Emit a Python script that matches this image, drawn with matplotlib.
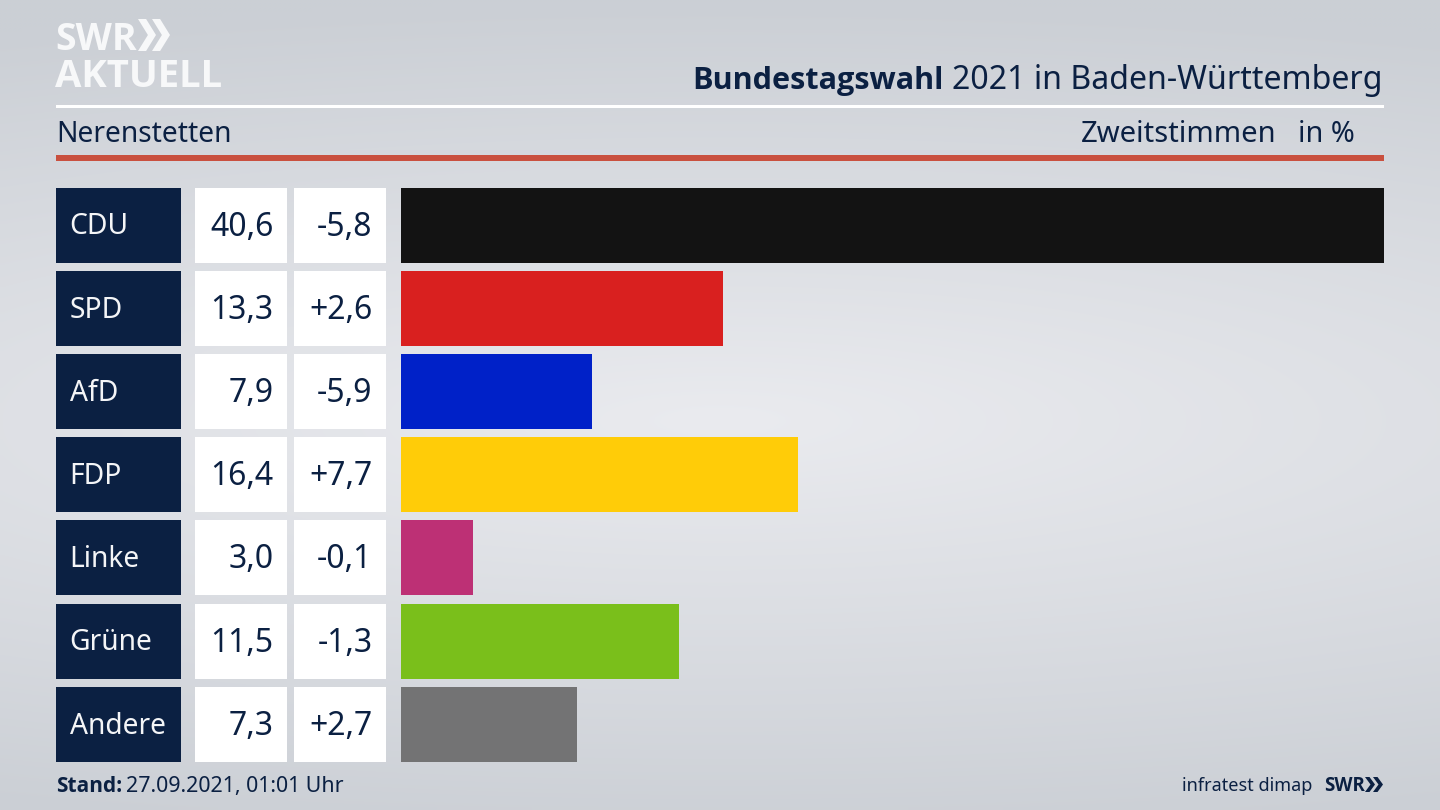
import numpy as np
import matplotlib
matplotlib.use("Agg")
import matplotlib.pyplot as plt
from matplotlib import font_manager as fm
from matplotlib.patches import Rectangle, Polygon

parties = ["CDU", "SPD", "AfD", "FDP", "Linke", "Grüne", "Andere"]
shares = [40.6, 13.3, 7.9, 16.4, 3.0, 11.5, 7.3]
changes = ["-5,8", "+2,6", "-5,9", "+7,7", "-0,1", "-1,3", "+2,7"]
colors = ["#131313", "#d9201f", "#0021c8", "#ffcc08", "#bd3075", "#7abf1b", "#737374"]

NAVY = "#0b2042"
FONT = "Noto Sans"
W, H = 1440, 810

def bold_family():
    for fam in ["Noto Sans", "Open Sans", "Lato", "Roboto", "Liberation Sans"]:
        for f in fm.fontManager.ttflist:
            if f.name == fam and f.style == "normal" and f.weight in (700, "bold", 800, 900):
                return fam
    return "DejaVu Sans"

BOLD = bold_family()

fig = plt.figure(figsize=(14.4, 8.1), dpi=100)
bg = fig.add_axes([0, 0, 1, 1])
bg.set_xlim(0, W); bg.set_ylim(H, 0); bg.axis("off")

# background gradient
yy, xx = np.mgrid[0:1:162j, 0:1:288j]
d = np.sqrt(((xx - 0.5) / 1.3) ** 2 + ((yy - 0.52) / 0.52) ** 2)
t = np.clip(d, 0, 1)
c0 = np.array([0xea, 0xeb, 0xef]) / 255
c1 = np.array([0xcb, 0xcf, 0xd5]) / 255
img = c0[None, None, :] * (1 - t[..., None]) + c1[None, None, :] * t[..., None]
bg.imshow(img, extent=[0, W, H, 0], aspect="auto", zorder=0, interpolation="bilinear")

def rect(x, y, w, h, c, z=1):
    bg.add_patch(Rectangle((x, y), w, h, fc=c, ec="none", zorder=z))

def txt(x, y, s, size, color=NAVY, ha="left", bold=False):
    bg.text(x, y, s, fontsize=size, color=color, ha=ha, va="baseline",
            family=BOLD if bold else FONT, weight="bold" if bold else "normal", zorder=5)

def chevrons(x, y, h, w, gap, c):
    th = w * 0.45
    for i in range(2):
        x0 = x + i * gap
        bg.add_patch(Polygon([(x0, y), (x0 + th, y), (x0 + w, y + h / 2), (x0 + th, y + h),
                              (x0, y + h), (x0 + w - th, y + h / 2)], fc=c, ec="none", zorder=5))

# header
rect(56, 104.5, 1328, 3, "#ffffff")
rect(56, 155, 1328, 5.5, "#c9503f")
txt(55, 50, "SWR", 27, color="#f7f8f9", bold=True)
chevrons(138, 19, 32, 18, 14, "#f7f8f9")
txt(55, 87, "AKTUELL", 27.5, color="#f7f8f9", bold=True)

txt(1383, 89, "2021 in Baden-Württemberg", 23.1, ha="right")
txt(944, 89, "Bundestagswahl", 22.1, ha="right", bold=True)
txt(56, 142, "Nerenstetten", 20.3)
txt(1277, 142, "Zweitstimmen", 21, ha="right")
txt(1355, 142, "in %", 20.7, ha="right")

# rows
top0, step, rh = 187.5, 83.2, 75
for i, (p, s, ch) in enumerate(zip(parties, shares, changes)):
    top = top0 + i * step
    base = top + 48
    rect(56, top, 125, rh, NAVY)
    rect(195, top, 92, rh, "#ffffff")
    rect(294, top, 92, rh, "#ffffff")
    txt(69.5, base - 1, p, 20.3, color="#f4f5f7")
    txt(273.5, base, f"{s:.1f}".replace(".", ","), 23, ha="right")
    txt(372.5, base, ch, 23, ha="right")

# bars on a real value scale
ax = fig.add_axes([400.5 / W, 1 - (top0 + 6 * step + rh) / H, (1384 - 400.5) / W, (6 * step + rh) / H])
ax.patch.set_alpha(0)
ax.set_xlim(0, max(shares))
ax.set_ylim(6 * step + rh - rh / 2, -rh / 2)
ax.axis("off")
ax.barh([i * step for i in range(len(parties))], shares, height=rh, color=colors, linewidth=0)

# footer
txt(56, 792, "Stand:", 15, bold=True)
txt(126, 792, "27.09.2021, 01:01 Uhr", 15.4)
txt(1312, 791, "infratest dimap", 13, ha="right")
txt(1324, 791, "SWR", 13.5, bold=True)
chevrons(1365, 777, 15, 10, 8, NAVY)

fig.savefig("out.png", dpi=100)
